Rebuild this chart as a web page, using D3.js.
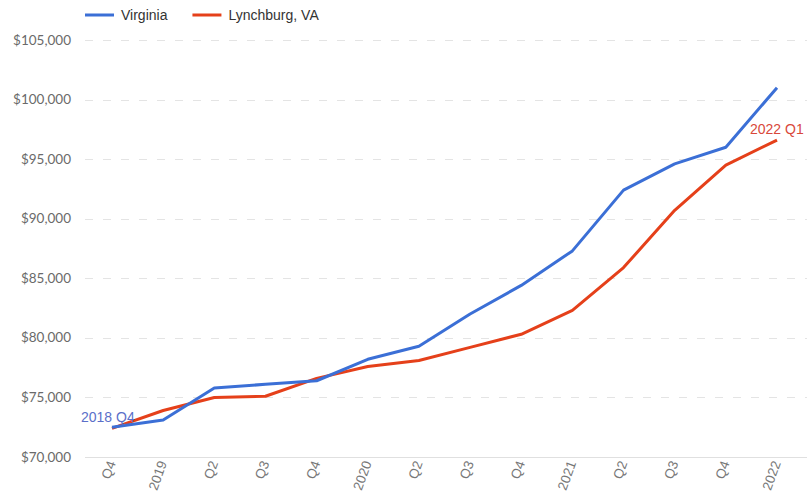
<!DOCTYPE html>
<html>
<head>
<meta charset="utf-8">
<script src="https://cdn.jsdelivr.net/npm/d3@7"></script>
<style>
	body { margin: 0; background: #fff; }
	svg { display: block; }
</style>
</head>
<body>
<svg id="chart"></svg>
<script>
const quarters = ["Q4", "2019", "Q2", "Q3", "Q4", "2020", "Q2", "Q3", "Q4", "2021", "Q2", "Q3", "Q4", "2022"];
const virginia = [72500, 73100, 75800, 76100, 76400, 78200, 79300, 82000, 84400, 87300, 92400, 94600, 96000, 101000];
const lynchburg = [72400, 73900, 75000, 75100, 76600, 77600, 78100, 79200, 80300, 82300, 85900, 90700, 94500, 96600];
const yTicks = [70000, 75000, 80000, 85000, 90000, 95000, 100000, 105000];

const width = 807, height = 499;
const margin = { top: 40, right: 0, bottom: 42, left: 85 };

const svg = d3.select('#chart')
	.attr('width', width)
	.attr('height', height);

const x = d3.scalePoint()
	.domain(d3.range(quarters.length))
	.range([112, 777]);

const y = d3.scaleLinear()
	.domain([70000, 105000])
	.range([height - margin.bottom, margin.top]);

const fmt = d3.format("$,");

// gridlines
svg.append('g')
	.selectAll('line')
	.data(yTicks.filter(d => d > 70000))
	.enter().append('line')
	.attr('x1', margin.left)
	.attr('x2', width)
	.attr('y1', d => Math.round(y(d)) + 0.5)
	.attr('y2', d => Math.round(y(d)) + 0.5)
	.attr('stroke', '#e4e4e4')
	.attr('stroke-dasharray', '8,10');

svg.append('line')
	.attr('x1', margin.left)
	.attr('x2', width)
	.attr('y1', Math.round(y(70000)) + 0.5)
	.attr('y2', Math.round(y(70000)) + 0.5)
	.attr('stroke', '#e0e0e0');

// y axis labels
svg.append('g')
	.selectAll('text')
	.data(yTicks)
	.enter().append('text')
	.attr('x', 71)
	.attr('y', d => y(d) + 4.5)
	.attr('text-anchor', 'end')
	.attr('font-family', 'Lato, sans-serif')
	.attr('font-size', 13.5)
	.attr('fill', '#6a6a6a')
	.text(d => fmt(d));

// x axis labels
svg.append('g')
	.selectAll('text')
	.data(quarters)
	.enter().append('text')
	.attr('transform', (d, i) => `translate(${x(i) + 4},${height - margin.bottom + 6}) rotate(-70)`)
	.attr('text-anchor', 'end')
	.attr('font-family', 'Arial, "Liberation Sans", sans-serif')
	.attr('font-size', 13.5)
	.attr('fill', '#777')
	.text(d => d);

const line = d3.line()
	.x((d, i) => x(i))
	.y(d => y(d));

const series = [
	{ name: "Virginia", values: virginia, color: '#3b6fd6' },
	{ name: "Lynchburg, VA", values: lynchburg, color: '#e5401a' }
];

svg.append('g')
	.selectAll('path')
	.data(series.slice().reverse())
	.enter().append('path')
	.attr('fill', 'none')
	.attr('stroke', d => d.color)
	.attr('stroke-width', 3)
	.attr('stroke-linejoin', 'round')
	.attr('d', d => line(d.values));

// end labels
svg.append('text')
	.attr('x', 81)
	.attr('y', 422)
	.attr('font-family', 'Arial, "Liberation Sans", sans-serif')
	.attr('font-size', 14)
	.attr('fill', '#5b6fc9')
	.text("2018 Q4");

svg.append('text')
	.attr('x', 750)
	.attr('y', 134)
	.attr('font-family', 'Arial, "Liberation Sans", sans-serif')
	.attr('font-size', 14)
	.attr('fill', '#d9483a')
	.text("2022 Q1");

// legend
const legend = svg.append('g');
let lx = 85;
for (let s of series) {
	legend.append('line')
		.attr('x1', lx)
		.attr('x2', lx + 29)
		.attr('y1', 15)
		.attr('y2', 15)
		.attr('stroke', s.color)
		.attr('stroke-width', 3);

	const t = legend.append('text')
		.attr('x', lx + 36)
		.attr('y', 20)
		.attr('font-family', 'Arial, "Liberation Sans", sans-serif')
		.attr('font-size', 14)
		.attr('fill', '#333')
		.text(s.name);

	lx += 36 + t.node().getComputedTextLength() + 25;
}
</script>
</body>
</html>
